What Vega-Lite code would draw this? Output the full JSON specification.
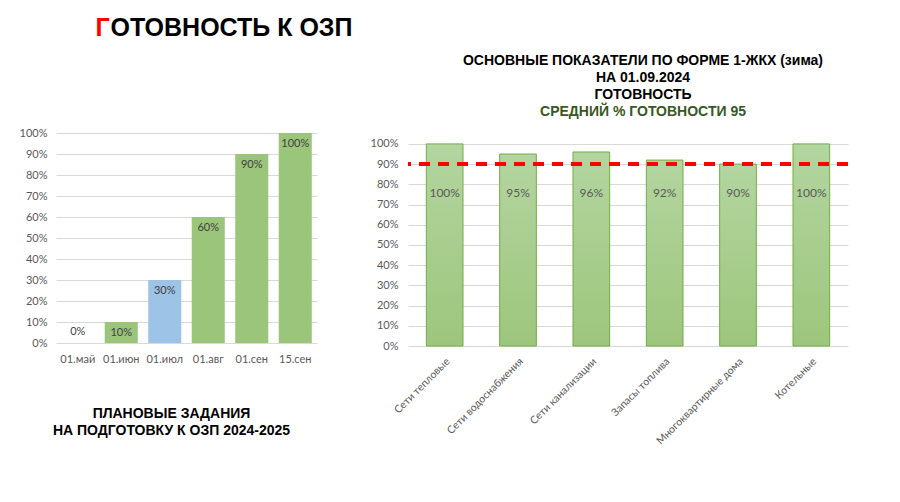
{
  "$schema": "https://vega.github.io/schema/vega-lite/v6.json",
  "padding": {"left": 19, "top": 15, "right": 5, "bottom": 5},
  "background": "white",
  "config": {"view": {"stroke": null}, "font": "Lato"},
  "bounds": "flush",
  "spacing": 91,
  "hconcat": [
    {
      "width": 261,
      "height": 210,
      "data": {"values": [
        {"d": "01.май", "v": 0},
        {"d": "01.июн", "v": 0.1},
        {"d": "01.июл", "v": 0.3},
        {"d": "01.авг", "v": 0.6},
        {"d": "01.сен", "v": 0.9},
        {"d": "15.сен", "v": 1.0}
      ]},
      "title": {"text": ["ПЛАНОВЫЕ ЗАДАНИЯ", "НА ПОДГОТОВКУ К ОЗП 2024-2025"], "orient": "bottom",
        "font": "Liberation Sans", "fontSize": 14, "fontWeight": "bold", "color": "#000000", "lineHeight": 17,
        "anchor": "middle", "frame": "group", "dx": -15, "offset": 43},
      "encoding": {
        "x": {"field": "d", "type": "nominal", "sort": null,
          "scale": {"paddingInner": 0.24, "paddingOuter": 0.12},
          "axis": {"labelAngle": 0, "domain": false, "ticks": false, "labelPadding": 10, "labelColor": "#595959", "labelFontSize": 11, "labelFont": "Lato",
            "title": "ОТОВНОСТЬ К ОЗП",
            "titleFont": "Liberation Sans", "titleFontSize": 25, "titleFontWeight": "bold", "titleColor": "#000000",
            "titleX": 54, "titleY": -308, "titleAlign": "left", "titleBaseline": "alphabetic", "titleAngle": 0}},
        "y": {"field": "v", "type": "quantitative",
          "scale": {"domain": [0, 1], "nice": false},
          "axis": {"values": [0, 0.1, 0.2, 0.3, 0.4, 0.5, 0.6, 0.7, 0.8, 0.9, 1.0], "format": ".0%", "grid": true, "gridColor": "#D9D9D9", "domain": false, "ticks": false, "labelPadding": 9, "labelColor": "#595959", "labelFontSize": 11, "labelFont": "Lato", "labelOverlap": false,
            "title": "Г", "titleAngle": 0, "titleAlign": "left", "titleBaseline": "alphabetic", "titleX": 39, "titleY": -98,
            "titleFont": "Liberation Sans", "titleFontSize": 25, "titleFontWeight": "bold", "titleColor": "#FF0000"}}
      },
      "layer": [
        {"mark": {"type": "bar"},
         "encoding": {"color": {"condition": {"test": "datum.d === '01.июл'", "value": "#9DC3E6"}, "value": "#9BC57A"}}},
        {"mark": {"type": "text", "baseline": "middle", "color": "#404040", "fontSize": 11, "font": "Lato",
           "dy": {"expr": "datum.v === 0 ? -11 : 11"}},
         "encoding": {
           "text": {"field": "v", "type": "quantitative", "format": ".0%"}}}
      ]
    },
    {
      "width": 440,
      "height": 213,
      "data": {"values": [
        {"c": "Сети тепловые", "v": 1.0},
        {"c": "Сети водоснабжения", "v": 0.95},
        {"c": "Сети канализации", "v": 0.96},
        {"c": "Запасы топлива", "v": 0.92},
        {"c": "Многоквартирные дома", "v": 0.9},
        {"c": "Котельные", "v": 1.0}
      ]},
      "title": {"text": ["ОСНОВНЫЕ ПОКАЗАТЕЛИ ПО ФОРМЕ 1-ЖКХ (зима)", "НА 01.09.2024", "ГОТОВНОСТЬ"],
        "subtitle": "СРЕДНИЙ % ГОТОВНОСТИ 95",
        "font": "Liberation Sans", "fontSize": 14, "fontWeight": "bold", "color": "#000000", "lineHeight": 17,
        "subtitleFont": "Liberation Sans", "subtitleFontSize": 14, "subtitleFontWeight": "bold", "subtitleColor": "#385723", "subtitlePadding": 3,
        "anchor": "middle", "frame": "group", "dx": 15, "offset": 14},
      "layer": [
        {
          "encoding": {
            "x": {"field": "c", "type": "nominal", "sort": null,
              "scale": {"paddingInner": 0.5, "paddingOuter": 0.25},
              "axis": {"labelAngle": -45, "domain": false, "ticks": false, "labelPadding": 10, "labelColor": "#595959", "labelFontSize": 10.5, "labelFont": "Lato", "title": null}},
            "y": {"field": "v", "type": "quantitative",
              "scale": {"domain": [0, 1.054], "nice": false},
              "axis": {"values": [0, 0.1, 0.2, 0.3, 0.4, 0.5, 0.6, 0.7, 0.8, 0.9, 1.0], "format": ".0%", "grid": true, "gridColor": "#D9D9D9", "domain": false, "ticks": false, "labelPadding": 10, "labelColor": "#595959", "labelFontSize": 11, "labelFont": "Lato", "labelOverlap": false, "title": null}}
          },
          "layer": [
            {"mark": {"type": "bar", "stroke": "#70AD47", "strokeWidth": 1,
              "color": {"gradient": "linear", "x1": 0, "y1": 0, "x2": 0, "y2": 1, "stops": [{"offset": 0, "color": "#B3D5A0"}, {"offset": 1, "color": "#9DC67C"}]}}},
            {"mark": {"type": "text", "baseline": "middle", "color": "#595959", "fontSize": 12, "font": "Lato"},
             "encoding": {"y": {"datum": 0.757}, "text": {"field": "v", "type": "quantitative", "format": ".0%"}}}
          ]
        },
        {"mark": {"type": "rule", "color": "#FF0000", "strokeWidth": 3, "strokeDash": [11, 8]},
         "encoding": {"y": {"datum": 0.9, "type": "quantitative",
           "axis": {"values": [0, 0.1, 0.2, 0.3, 0.4, 0.5, 0.6, 0.7, 0.8, 0.9, 1.0], "format": ".0%", "grid": true, "gridColor": "#D9D9D9", "domain": false, "ticks": false, "labelPadding": 10, "labelColor": "#595959", "labelFontSize": 11, "labelFont": "Lato", "labelOverlap": false, "title": null}}}}
      ]
    }
  ]
}
